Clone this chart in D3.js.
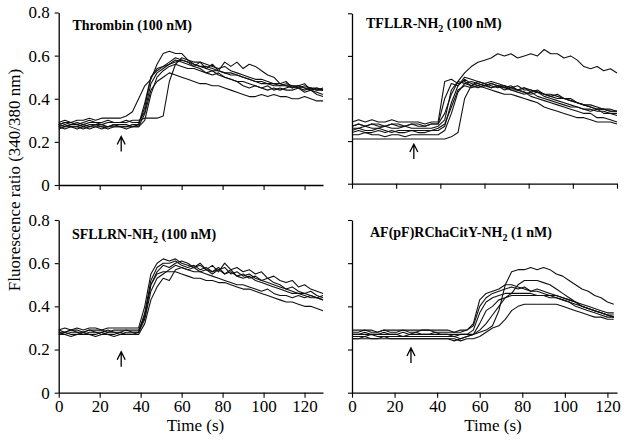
<!DOCTYPE html>
<html><head><meta charset="utf-8">
<script src="https://cdn.jsdelivr.net/npm/d3@7"></script>
<style>html,body{margin:0;padding:0;background:#fff;}</style>
</head><body>
<script>
// ---------- DATA ----------
const yTicks = [0, 0.2, 0.4, 0.6, 0.8];
const xTicks = [0, 20, 40, 60, 80, 100, 120];
const titles = [
  ["Thrombin (100 nM)"],
  ["TFLLR-NH", "2", " (100 nM)"],
  ["SFLLRN-NH", "2", " (100 nM)"],
  ["AF(pF)RChaCitY-NH", "2", " (1 nM)"]
];
const arrowTimes = [30.5, 28, 30.5, 27.7];
const arrowTips = [0.225, 0.186, 0.19, 0.207];

const timesThrombin = [0,3,6,9,12,15,18,21,24,27,30,33,36,39,42,45,48,51,54,57,60,63,66,69,72,75,78,81,84,87,90,93,96,99,102,105,108,111,114,117,120,123,126,129];
const timesTFLLR = [0,3,6,9,12,15,18,21,24,27,30,33,36,39,42,45,48,51,54,57,60,63,66,69,72,75,78,81,84,87,90,93,96,99,102,105,108,111,114,117,120];
const timesSFLLRN = [0,3,6,9,12,15,18,21,24,27,30,33,36,39,42,45,48,51,54,57,60,63,66,69,72,75,78,81,84,87,90,93,96,99,102,105,108,111,114,117,120,123,126,129];
const timesAF = [0,3,6,9,12,15,18,21,24,27,30,33,36,39,42,45,48,51,54,57,60,63,66,69,72,75,78,81,84,87,90,93,96,99,102,105,108,111,114,117,120,123];

const thrombinTraces = [
 [0.29,0.30,0.29,0.30,0.30,0.31,0.30,0.31,0.31,0.31,
  0.31,0.32,0.34,0.40,0.46,0.49,0.56,0.61,0.62,0.61,
  0.61,0.58,0.56,0.55,0.54,0.53,0.53,0.52,0.51,0.51,
  0.50,0.49,0.48,0.48,0.47,0.47,0.46,0.46,0.45,0.46,
  0.45,0.45,0.44,0.44],
 [0.27,0.28,0.27,0.27,0.28,0.27,0.28,0.27,0.27,0.28,
  0.27,0.27,0.28,0.28,0.36,0.50,0.53,0.55,0.56,0.58,
  0.57,0.56,0.55,0.57,0.54,0.56,0.53,0.57,0.55,0.57,
  0.54,0.56,0.55,0.53,0.51,0.50,0.47,0.48,0.45,0.46,
  0.47,0.44,0.45,0.44],
 [0.28,0.29,0.28,0.29,0.28,0.29,0.29,0.28,0.29,0.29,
  0.29,0.29,0.30,0.30,0.31,0.31,0.31,0.32,0.48,0.56,
  0.59,0.58,0.57,0.57,0.56,0.55,0.54,0.55,0.53,0.52,
  0.51,0.50,0.49,0.49,0.48,0.47,0.47,0.46,0.46,0.45,
  0.44,0.45,0.44,0.45],
 [0.27,0.26,0.27,0.27,0.26,0.27,0.27,0.26,0.27,0.27,
  0.27,0.26,0.27,0.27,0.33,0.44,0.48,0.50,0.52,0.51,
  0.50,0.49,0.48,0.47,0.47,0.46,0.46,0.45,0.44,0.43,
  0.42,0.41,0.41,0.42,0.41,0.42,0.41,0.41,0.40,0.40,
  0.41,0.40,0.39,0.39],
 [0.28,0.27,0.28,0.28,0.27,0.28,0.28,0.28,0.27,0.28,
  0.28,0.28,0.27,0.28,0.38,0.50,0.54,0.55,0.57,0.59,
  0.58,0.57,0.55,0.54,0.52,0.53,0.51,0.50,0.49,0.48,
  0.46,0.45,0.46,0.45,0.44,0.45,0.44,0.45,0.46,0.46,
  0.45,0.44,0.43,0.42],
 [0.26,0.27,0.27,0.26,0.27,0.26,0.27,0.27,0.26,0.27,
  0.27,0.27,0.27,0.27,0.30,0.42,0.50,0.53,0.55,0.56,
  0.55,0.54,0.54,0.53,0.52,0.51,0.52,0.50,0.49,0.48,
  0.48,0.47,0.46,0.45,0.46,0.44,0.45,0.44,0.44,0.45,
  0.43,0.44,0.42,0.41],
 [0.28,0.29,0.29,0.28,0.29,0.30,0.29,0.29,0.30,0.29,
  0.29,0.30,0.29,0.29,0.34,0.47,0.52,0.54,0.56,0.57,
  0.58,0.57,0.56,0.55,0.55,0.54,0.53,0.52,0.52,0.51,
  0.50,0.49,0.48,0.47,0.47,0.46,0.46,0.47,0.46,0.45,
  0.46,0.45,0.45,0.44]
];

const tfllrTraces = [
 [0.27,0.28,0.27,0.28,0.27,0.27,0.28,0.27,0.27,0.28,
  0.27,0.27,0.28,0.28,0.33,0.42,0.48,0.52,0.55,0.57,
  0.58,0.59,0.61,0.60,0.61,0.59,0.60,0.61,0.60,0.63,
  0.61,0.61,0.59,0.60,0.58,0.55,0.54,0.55,0.53,0.54,
  0.52],
 [0.29,0.30,0.29,0.30,0.29,0.29,0.30,0.29,0.29,0.29,
  0.29,0.28,0.29,0.29,0.48,0.49,0.47,0.48,0.46,0.47,
  0.46,0.45,0.46,0.44,0.45,0.44,0.43,0.42,0.43,0.41,
  0.40,0.39,0.38,0.37,0.36,0.35,0.35,0.34,0.34,0.33,
  0.33],
 [0.27,0.28,0.27,0.28,0.28,0.27,0.28,0.28,0.27,0.28,
  0.28,0.27,0.28,0.28,0.40,0.47,0.46,0.49,0.47,0.46,
  0.47,0.45,0.46,0.45,0.46,0.44,0.45,0.43,0.44,0.42,
  0.42,0.41,0.40,0.40,0.38,0.37,0.36,0.35,0.35,0.34,
  0.34],
 [0.26,0.26,0.27,0.26,0.26,0.27,0.26,0.26,0.27,0.26,
  0.26,0.26,0.26,0.27,0.30,0.44,0.48,0.47,0.46,0.48,
  0.47,0.48,0.47,0.46,0.45,0.46,0.44,0.44,0.43,0.42,
  0.41,0.42,0.40,0.39,0.38,0.37,0.37,0.36,0.35,0.35,
  0.34],
 [0.24,0.25,0.24,0.24,0.25,0.24,0.25,0.24,0.24,0.25,
  0.24,0.24,0.25,0.25,0.27,0.38,0.46,0.50,0.49,0.48,
  0.47,0.46,0.45,0.46,0.44,0.43,0.42,0.43,0.41,0.40,
  0.39,0.38,0.37,0.36,0.36,0.35,0.34,0.35,0.33,0.33,
  0.32],
 [0.23,0.23,0.24,0.23,0.23,0.22,0.23,0.23,0.22,0.23,
  0.23,0.23,0.23,0.23,0.25,0.33,0.43,0.47,0.48,0.47,
  0.46,0.47,0.46,0.45,0.44,0.44,0.43,0.41,0.40,0.39,
  0.38,0.37,0.36,0.35,0.34,0.33,0.33,0.31,0.31,0.30,
  0.29],
 [0.21,0.21,0.21,0.21,0.21,0.21,0.21,0.21,0.21,0.21,
  0.21,0.21,0.21,0.21,0.21,0.22,0.24,0.40,0.46,0.45,
  0.46,0.47,0.46,0.46,0.45,0.44,0.45,0.44,0.43,0.42,
  0.41,0.40,0.40,0.39,0.38,0.37,0.36,0.35,0.35,0.34,
  0.34],
 [0.25,0.26,0.25,0.25,0.26,0.25,0.24,0.25,0.25,0.25,
  0.25,0.25,0.25,0.26,0.28,0.36,0.44,0.46,0.45,0.46,
  0.45,0.44,0.43,0.42,0.42,0.41,0.40,0.39,0.38,0.36,
  0.35,0.34,0.33,0.32,0.31,0.31,0.30,0.29,0.29,0.29,
  0.28]
];

const sfllrnTraces = [
 [0.27,0.28,0.27,0.27,0.28,0.27,0.27,0.28,0.27,0.27,
  0.28,0.27,0.27,0.28,0.36,0.50,0.55,0.56,0.56,0.56,
  0.55,0.54,0.53,0.53,0.52,0.52,0.51,0.51,0.50,0.49,
  0.48,0.48,0.47,0.46,0.45,0.44,0.43,0.42,0.42,0.41,
  0.40,0.40,0.39,0.38],
 [0.29,0.30,0.29,0.30,0.29,0.30,0.30,0.29,0.30,0.30,
  0.30,0.30,0.30,0.30,0.40,0.55,0.60,0.62,0.61,0.62,
  0.60,0.59,0.58,0.60,0.57,0.59,0.56,0.60,0.57,0.58,
  0.56,0.57,0.55,0.56,0.53,0.54,0.52,0.51,0.52,0.49,
  0.50,0.48,0.47,0.46],
 [0.28,0.28,0.29,0.28,0.28,0.29,0.28,0.28,0.29,0.28,
  0.28,0.29,0.28,0.28,0.37,0.52,0.58,0.60,0.60,0.61,
  0.59,0.58,0.59,0.57,0.58,0.56,0.57,0.55,0.56,0.54,
  0.55,0.53,0.54,0.52,0.51,0.50,0.49,0.48,0.47,0.46,
  0.46,0.45,0.44,0.43],
 [0.27,0.27,0.26,0.27,0.27,0.27,0.26,0.27,0.27,0.26,
  0.27,0.27,0.27,0.27,0.32,0.43,0.49,0.53,0.52,0.57,
  0.58,0.57,0.58,0.56,0.57,0.55,0.57,0.58,0.55,0.56,
  0.54,0.55,0.53,0.52,0.53,0.51,0.50,0.48,0.49,0.47,
  0.46,0.47,0.45,0.44],
 [0.28,0.27,0.28,0.28,0.27,0.28,0.28,0.27,0.28,0.28,
  0.27,0.28,0.28,0.28,0.34,0.47,0.53,0.55,0.57,0.59,
  0.58,0.57,0.56,0.56,0.55,0.54,0.53,0.52,0.51,0.50,
  0.50,0.49,0.48,0.47,0.48,0.46,0.45,0.45,0.44,0.45,
  0.44,0.45,0.44,0.45],
 [0.29,0.28,0.29,0.29,0.28,0.29,0.29,0.29,0.28,0.29,
  0.29,0.29,0.29,0.29,0.35,0.50,0.56,0.59,0.58,0.60,
  0.61,0.60,0.58,0.59,0.57,0.56,0.58,0.55,0.57,0.54,
  0.53,0.54,0.52,0.51,0.50,0.49,0.48,0.47,0.46,0.46,
  0.45,0.44,0.44,0.43]
];

const afTraces = [
 [0.27,0.27,0.28,0.27,0.27,0.28,0.27,0.27,0.28,0.27,
  0.28,0.27,0.27,0.28,0.27,0.27,0.26,0.27,0.27,0.27,
  0.28,0.29,0.31,0.38,0.50,0.56,0.57,0.57,0.58,0.57,
  0.58,0.57,0.55,0.54,0.52,0.50,0.48,0.47,0.45,0.44,
  0.42,0.41],
 [0.26,0.26,0.26,0.27,0.26,0.26,0.26,0.26,0.26,0.26,
  0.26,0.26,0.26,0.26,0.26,0.26,0.26,0.25,0.26,0.27,
  0.29,0.32,0.36,0.40,0.44,0.46,0.50,0.52,0.52,0.52,
  0.51,0.50,0.48,0.46,0.44,0.42,0.40,0.39,0.38,0.37,
  0.36,0.35],
 [0.28,0.28,0.29,0.28,0.28,0.29,0.28,0.28,0.29,0.28,
  0.28,0.29,0.29,0.28,0.28,0.28,0.28,0.28,0.29,0.31,
  0.40,0.44,0.46,0.47,0.48,0.49,0.48,0.49,0.47,0.48,
  0.47,0.46,0.45,0.44,0.43,0.42,0.41,0.40,0.39,0.38,
  0.37,0.37],
 [0.27,0.27,0.27,0.27,0.27,0.27,0.27,0.27,0.26,0.27,
  0.27,0.27,0.27,0.27,0.27,0.27,0.27,0.27,0.27,0.29,
  0.37,0.42,0.44,0.45,0.46,0.46,0.46,0.46,0.46,0.45,
  0.45,0.45,0.45,0.44,0.43,0.42,0.40,0.39,0.38,0.37,
  0.36,0.36],
 [0.25,0.25,0.26,0.25,0.25,0.26,0.25,0.25,0.25,0.25,
  0.25,0.25,0.25,0.25,0.25,0.25,0.24,0.25,0.26,0.27,
  0.32,0.38,0.40,0.43,0.44,0.45,0.45,0.45,0.45,0.45,
  0.45,0.44,0.44,0.43,0.42,0.41,0.40,0.39,0.38,0.37,
  0.36,0.35],
 [0.25,0.25,0.25,0.25,0.25,0.25,0.25,0.25,0.25,0.25,
  0.25,0.25,0.25,0.25,0.25,0.25,0.25,0.24,0.25,0.25,
  0.26,0.28,0.30,0.31,0.34,0.38,0.40,0.41,0.41,0.41,
  0.41,0.41,0.41,0.40,0.39,0.38,0.37,0.36,0.35,0.35,
  0.34,0.34],
 [0.29,0.29,0.29,0.29,0.28,0.29,0.29,0.29,0.29,0.29,
  0.29,0.29,0.29,0.29,0.29,0.29,0.28,0.29,0.29,0.32,
  0.43,0.46,0.47,0.48,0.50,0.50,0.49,0.48,0.47,0.47,
  0.46,0.45,0.44,0.43,0.42,0.40,0.39,0.38,0.37,0.36,
  0.35,0.35]
];

// ---------- LAYOUT ----------
const FONT = "'Liberation Serif','Times New Roman',Times,serif";
const layout = [
  {times: timesThrombin, traces: thrombinTraces, xMax: 129,   x0: 58.7, x1: 323, yTop: 12.5, yBot: 185,   xLab: false, yLab: true,  tx: 72.5, ty: 29.5},
  {times: timesTFLLR,    traces: tfllrTraces,    xMax: 120,   x0: 352,  x1: 617, yTop: 13.3, yBot: 183.7, xLab: false, yLab: false, tx: 366,  ty: 28},
  {times: timesSFLLRN,   traces: sfllrnTraces,   xMax: 129,   x0: 58.7, x1: 323, yTop: 220,  yBot: 392.7, xLab: true,  yLab: true,  tx: 72,   ty: 239},
  {times: timesAF,       traces: afTraces,       xMax: 124.5, x0: 352,  x1: 617, yTop: 220,  yBot: 392.7, xLab: true,  yLab: false, tx: 370,  ty: 237}
];

const svg = d3.select("body").append("svg")
  .attr("width", 624).attr("height", 445)
  .style("background", "#fff")
  .style("font-family", FONT);

layout.forEach((p, k) => {
  const x = d3.scaleLinear().domain([0, p.xMax]).range([p.x0, p.x1]);
  const y = d3.scaleLinear().domain([0, 0.8]).range([p.yBot, p.yTop]);
  const g = svg.append("g");

  const xAxis = d3.axisBottom(x).tickValues(xTicks).tickSizeInner(5).tickSizeOuter(0).tickPadding(2);
  if (!p.xLab) xAxis.tickFormat("");
  const gx = g.append("g").attr("transform", `translate(0,${p.yBot})`).call(xAxis);

  const yAxis = d3.axisLeft(y).tickValues(yTicks).tickSizeInner(4).tickSizeOuter(0).tickPadding(5)
    .tickFormat(d => d === 0 ? "0" : d3.format(".1f")(d));
  if (!p.yLab) yAxis.tickFormat("");
  const gy = g.append("g").attr("transform", `translate(${p.x0},0)`).call(yAxis);

  [gx, gy].forEach(a => {
    a.select(".domain").attr("stroke", "#000").attr("stroke-width", 1.3);
    a.selectAll(".tick line").attr("stroke", "#000").attr("stroke-width", 1.1);
    a.selectAll(".tick text").attr("fill", "#000").style("font-family", FONT).style("font-size", "17px");
  });

  const line = d3.line().x(d => x(d[0])).y(d => y(d[1]));
  g.append("g").selectAll("path").data(p.traces).join("path")
    .attr("d", vals => line(vals.map((v, i) => [p.times[i], v])))
    .attr("fill", "none").attr("stroke", "#111").attr("stroke-width", 1.1)
    .attr("stroke-linejoin", "round");

  // arrow
  const ax = x(arrowTimes[k]), ay = y(arrowTips[k]);
  g.append("path")
    .attr("d", `M${ax},${ay + 15} V${ay} M${ax - 4},${ay + 8} L${ax},${ay} L${ax + 4},${ay + 8}`)
    .attr("fill", "none").attr("stroke", "#000").attr("stroke-width", 1.3);

  // title
  const t = g.append("text").attr("x", p.tx).attr("y", p.ty)
    .style("font-family", FONT).style("font-weight", "bold").style("font-size", "14px").attr("fill", "#000");
  titles[k].forEach((part, i) => {
    if (i % 2 === 1) {
      t.append("tspan").attr("dy", 4).style("font-size", "10px").text(part);
    } else {
      t.append("tspan").attr("dy", i === 0 ? 0 : -4).text(part);
    }
  });
});

// axis titles
svg.append("text").attr("transform", "translate(20,180) rotate(-90)")
  .attr("text-anchor", "middle").style("font-size", "17px").attr("fill", "#000")
  .text("Fluorescence ratio (340/380 nm)");
svg.append("text").attr("x", 195.5).attr("y", 431).attr("text-anchor", "middle")
  .style("font-size", "17px").attr("fill", "#000").text("Time (s)");
svg.append("text").attr("x", 493).attr("y", 431).attr("text-anchor", "middle")
  .style("font-size", "17px").attr("fill", "#000").text("Time (s)");
</script>
</body></html>
